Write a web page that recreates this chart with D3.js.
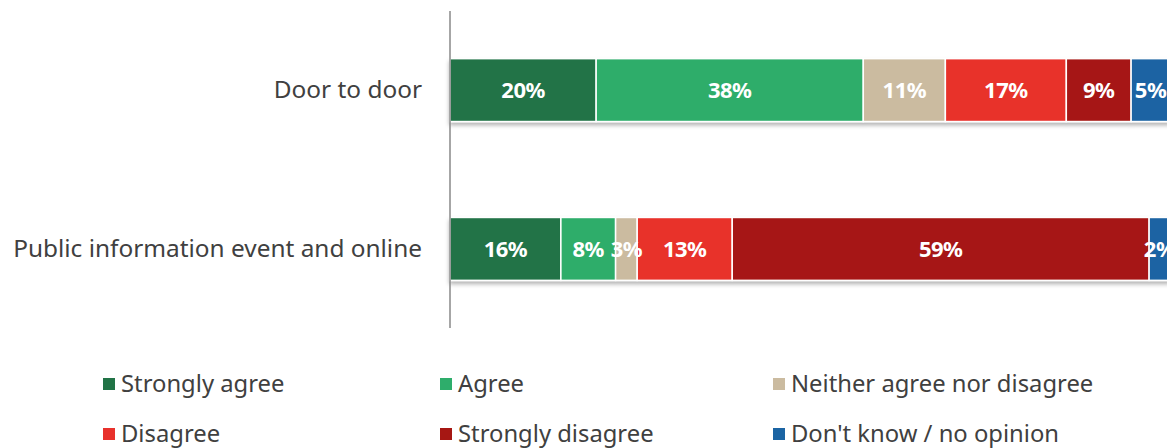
<!DOCTYPE html>
<html>
<head>
<meta charset="utf-8">
<script src="https://cdn.jsdelivr.net/npm/d3@7"></script>
<style>
  body { margin: 0; background: #fff; }
  svg { display: block; font-family: "Noto Sans", "Open Sans", sans-serif; }
</style>
</head>
<body>
<svg id="chart" width="1167" height="448"></svg>
<script>
// data
const categories = ['Door to door', 'Public information event and online'];
const series = ['Strongly agree', 'Agree', 'Neither agree nor disagree',
                'Disagree', 'Strongly disagree', "Don't know / no opinion"];
const doorValues = [20.3, 37.1, 11.4, 16.8, 9.0, 5.4];
const publicValues = [15.4, 7.6, 3.0, 13.2, 57.9, 2.9];
const doorLabels = ['20%', '38%', '11%', '17%', '9%', '5%'];
const publicLabels = ['16%', '8%', '3%', '13%', '59%', '2%'];
const colors = ['#217346', '#2ead6b', '#cbbba0', '#e8312c', '#a61713', '#1b64a3'];

const svg = d3.select('#chart');

const x = d3.scaleLinear().domain([0, 100]).range([450, 1170]);
const y = d3.scaleBand().domain(categories).range([11, 328])
  .paddingInner(0.604).paddingOuter(0.3);
const color = d3.scaleOrdinal().domain(series).range(colors);

const rows = [
  {cat: categories[0], values: doorValues, labels: doorLabels},
  {cat: categories[1], values: publicValues, labels: publicLabels}
];

// stack the segments per row
rows.forEach(r => {
  let acc = 0;
  r.segs = r.values.map((v, i) => {
    const s = {cat: r.cat, key: series[i], x0: acc, x1: acc + v, label: r.labels[i]};
    acc += v;
    return s;
  });
});

const defs = svg.append('defs');
defs.append('filter').attr('id', 'shadow')
  .attr('x', '-5%').attr('y', '-20%').attr('width', '110%').attr('height', '150%')
  .append('feDropShadow')
  .attr('dx', 0).attr('dy', 3).attr('stdDeviation', 2)
  .attr('flood-color', '#000').attr('flood-opacity', 0.3);

const g = svg.append('g');

const rowG = g.selectAll('.row').data(rows).enter().append('g')
  .attr('class', 'row')
  .attr('filter', 'url(#shadow)');

rowG.selectAll('rect').data(d => d.segs)
  .enter().append('rect')
  .attr('x', d => x(d.x0))
  .attr('y', d => y(d.cat))
  .attr('width', d => x(d.x1) - x(d.x0))
  .attr('height', y.bandwidth())
  .attr('fill', d => color(d.key))
  .attr('stroke', '#fff')
  .attr('stroke-width', 1.5);

g.selectAll('.rowlabels').data(rows).enter().append('g')
  .selectAll('text').data(d => d.segs)
  .enter().append('text')
  .attr('x', d => (x(d.x0) + x(d.x1)) / 2)
  .attr('y', d => y(d.cat) + y.bandwidth() / 2)
  .attr('dy', '0.35em')
  .attr('text-anchor', 'middle')
  .attr('fill', '#fff')
  .attr('font-weight', 'bold')
  .attr('font-size', 22)
  .attr('letter-spacing', -0.5)
  .text(d => d.label);

// vertical axis
const yAxis = d3.axisLeft(y).tickSize(0).tickPadding(28);
const ax = svg.append('g').attr('transform', 'translate(450,0)').call(yAxis);
ax.select('.domain').attr('stroke', '#888').attr('stroke-width', 1.5)
  .attr('d', 'M0,11V328');
ax.selectAll('text')
  .attr('font-size', 24.4)
  .attr('fill', '#404040')
  .attr('font-family', '"Noto Sans", sans-serif');

// legend
const legendCols = [103, 440, 773];
const legendRows = [384, 434];
const leg = svg.selectAll('.leg').data(series).enter().append('g')
  .attr('class', 'leg')
  .attr('transform', (d, i) => `translate(${legendCols[i % 3]},${legendRows[Math.floor(i / 3)]})`);
leg.append('rect')
  .attr('x', 0).attr('y', -6).attr('width', 12).attr('height', 12)
  .attr('fill', d => color(d));
leg.append('text')
  .attr('x', 18).attr('dy', '0.35em')
  .attr('font-size', 23.8)
  .attr('fill', '#404040')
  .text(d => d);
</script>
</body>
</html>
